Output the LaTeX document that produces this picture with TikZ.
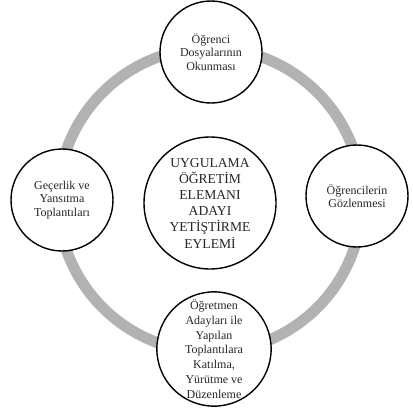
\documentclass[tikz,border=0pt]{standalone}
\usepackage{fontspec}
\setmainfont{Liberation Serif}
\tikzset{stage/.style={circle,draw=black,line width=1.4pt,fill=white,
		inner sep=0pt,minimum size=102pt,align=center,text=black!85,
		font=\fontsize{12}{13.5}\selectfont},
	core/.style={stage,minimum size=132pt,font=\fontsize{13.6}{16.2}\selectfont}}

\begin{document}
\begin{tikzpicture}[x=1pt,y=-1pt]
		\useasboundingbox (0,0) rectangle (413,408);
		% grey cycle behind the stages
		\coordinate (hub) at (210,200);
		\draw [black!30,line width=11pt] (hub) circle [radius=152];
		\node [core] (core) at (210,203) {UYGULAMA\\ÖĞRETİM\\ELEMANI\\ADAYI\\YETİŞTİRME\\EYLEMİ};
		\begin{scope}[every node/.style={stage}]
			\node (read) at (211,52) {Öğrenci\\Dosyalarının\\Okunması};
			\node (observe) at (357,196) {Öğrencilerin\\Gözlenmesi};
			\node [minimum size=112pt,font=\fontsize{12}{14.8}\selectfont] (meet) at (214,349) {Öğretmen\\Adayları ile\\Yapılan\\Toplantılara\\Katılma,\\Yürütme ve\\Düzenleme};
			\node (reflect) at (62,200) {Geçerlik ve\\Yansıtma\\Toplantıları};
		\end{scope}
	\end{tikzpicture}
\end{document}
